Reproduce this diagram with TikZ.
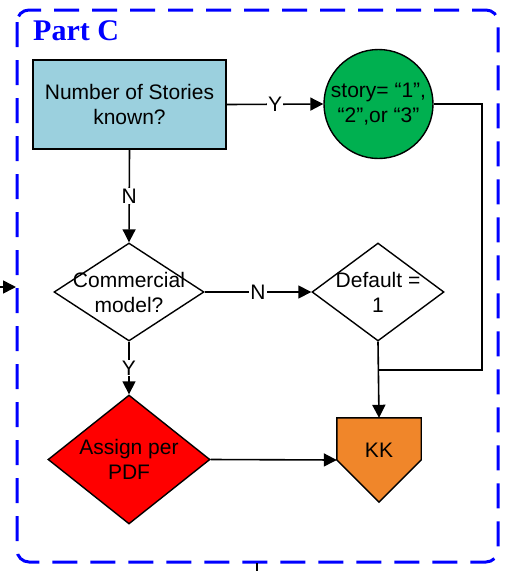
\documentclass[tikz,border=0pt]{standalone}
\usepackage{fontspec}
\setmainfont{Liberation Sans}
\newfontfamily\titlefont{Liberation Serif}
\usetikzlibrary{shapes.geometric,arrows.meta,calc,backgrounds}

\definecolor{boxblue}{RGB}{155,208,222}
\definecolor{okgreen}{RGB}{0,176,80}
\definecolor{pdfred}{RGB}{255,0,0}
\definecolor{kkorange}{RGB}{240,134,42}
\definecolor{frameblue}{RGB}{0,0,255}

\tikzset{
  base/.style={font=\fontsize{21}{25}\selectfont, align=center},
  procbox/.style={base, draw=black, line width=1.6pt, fill=boxblue,
    minimum width=193pt, minimum height=89pt, inner sep=0pt},
  okcircle/.style={draw=black, line width=1.4pt, fill=okgreen, circle,
    minimum size=109pt, inner sep=0pt},
  decision/.style={draw=black, line width=1.4pt, diamond, inner sep=0pt},
  inner/.style={base},
  conn/.style={line width=1.6pt, -{Triangle[length=13pt,width=13pt]}},
  plain/.style={line width=1.6pt},
  lbl/.style={base, fill=white, inner sep=1pt},
  frame/.style={draw=frameblue, line width=3pt, dash pattern=on 25pt off 13pt,
    rounded corners=12pt},
}

\begin{document}
\begin{tikzpicture}[x=1pt,y=-1pt]
\useasboundingbox (0,0) rectangle (506,571);

% dashed group frame and its title
\draw[frame] (17,10) rectangle (498,562);
\node[text=frameblue, font=\titlefont\bfseries\fontsize{30}{32}\selectfont,
  inner sep=0pt, anchor=base west] (title) at (33,40) {Part C};

% nodes
\node[procbox] (stories) at (129.5,104.5) {Number of Stories\\known?};
\node[okcircle, label={[inner]center:story= “1”,\\“2”,or “3”}] (story) at (378.5,104) {};
\node[decision, minimum width=150pt, minimum height=98pt,
  label={[inner]center:Commercial\\model?}] (comm) at (129,292) {};
\node[decision, minimum width=132pt, minimum height=98pt,
  label={[inner]center:Default =\\1}] (deflt) at (378,292) {};
\node[decision, fill=pdfred, minimum width=162pt, minimum height=129pt,
  label={[inner]center:Assign per\\PDF}] (assign) at (129,459.5) {};

% off-page connector KK: pentagon outline behind its text
\node[minimum width=84pt, minimum height=84pt, inner sep=0pt,
  label={[inner, yshift=10pt]center:KK}] (kk) at (379,460) {};
\begin{scope}[on background layer]
\filldraw[fill=kkorange, draw=black, line width=1.4pt]
  (kk.north west) -- (kk.north east) -- (kk.east) -- (kk.south) -- (kk.west) -- cycle;
\end{scope}

% helper points
\coordinate (bend) at (482,370);
\coordinate (join) at (378,370);
\coordinate (inA) at (0,287);
\coordinate (inB) at (16,287);
\coordinate (outA) at (257,563);
\coordinate (outB) at (257,571);

% connectors
\draw[conn] (stories.east) -- node[lbl] {Y} (story.west);
\draw[conn] (stories.south) -- node[lbl] {N} (comm.north);
\draw[conn] (comm.east) -- node[lbl] {N} (deflt.west);
\draw[conn] (comm.south) -- node[lbl] {Y} (assign.north);
\draw[conn] (deflt.south) -- (kk.north);
\draw[plain] (story.east) -| (bend) -- (join);
\draw[conn] (assign.east) -- (kk.west);
\draw[conn] (inA) -- (inB);
\draw[line width=1.2pt] (outA) -- (outB);
\end{tikzpicture}
\end{document}
